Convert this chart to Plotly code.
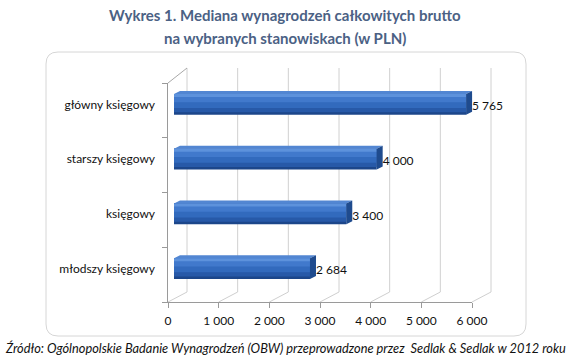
import plotly.graph_objects as go

# ---------------- data ----------------
categories = ["młodszy księgowy", "księgowy", "starszy księgowy", "główny księgowy"]
values = [2684, 3400, 4000, 5765]
x_tickvals = [0, 1000, 2000, 3000, 4000, 5000, 6000]
x_ticktext = ["0", "1 000", "2 000", "3 000", "4 000", "5 000", "6 000"]
title_lines = ["Wykres 1. Mediana wynagrodzeń całkowitych brutto",
               "na wybranych stanowiskach (w PLN)"]
source_text = "Źródło: Ogólnopolskie Badanie Wynagrodzeń (OBW) przeprowadzone przez  Sedlak & Sedlak w 2012 roku"

# ---------------- geometry helpers ----------------
W, H = 570, 359
FONT = "Lato"


def X(px):
    return px / W


def Y(py):
    return 1 - py / H


def fmt(v):
    return f"{v:,}".replace(",", " ")


XMAX = 6000
front_x = (168, 472)
front_y = (83, 302)
back_x = (187, 491)
back_y = (68, 292)
bar_x = (174, 478)
bar_y = (77, 296)

units_per_px_x = XMAX / (bar_x[1] - bar_x[0])
units_per_px_y = 4 / (bar_y[1] - bar_y[0])
cap_dx = 6 * units_per_px_x
cap_dy = 3 * units_per_px_y
face_h = 0.38

fig = go.Figure()

# empty trace so that the front axis frame is drawn
fig.add_trace(go.Scatter(x=[None], y=[None], xaxis="x", yaxis="y", showlegend=False, hoverinfo="skip"))

idx = list(range(len(categories)))

# front face gradient: nested bands, each from the top of the face down to a fraction
bands = [
    (1.00, "#1c468a"),
    (0.88, "#2759a8"),
    (0.68, "#326abd"),
    (0.40, "#4179cc"),
    (0.14, "#5d92dc"),
]
for frac, col in bands:
    w = frac * face_h
    centre_off = face_h / 2 - w / 2
    fig.add_trace(go.Bar(
        x=values, y=[i + centre_off for i in idx], width=w,
        orientation="h", marker=dict(color=col, line=dict(width=0)),
        xaxis="x3", yaxis="y3", hoverinfo="skip", showlegend=False))

# top face & end cap polygons computed from the values
for i, v in zip(idx, values):
    top = i + face_h / 2
    bot = i - face_h / 2
    fig.add_trace(go.Scatter(
        x=[0, v, v + cap_dx, cap_dx, 0],
        y=[top, top, top + cap_dy, top + cap_dy, top],
        fill="toself", mode="lines", line=dict(width=0),
        fillcolor="#5286d2", xaxis="x3", yaxis="y3",
        hoverinfo="skip", showlegend=False))
    fig.add_trace(go.Scatter(
        x=[v, v + cap_dx, v + cap_dx, v, v],
        y=[top, top + cap_dy, bot + cap_dy, bot, top],
        fill="toself", mode="lines", line=dict(width=0),
        fillcolor="#1f4b8e", xaxis="x3", yaxis="y3",
        hoverinfo="skip", showlegend=False))

# value labels
fig.add_trace(go.Scatter(
    x=[v + cap_dx for v in values], y=[i - 0.05 for i in idx],
    text=[fmt(v) for v in values], mode="text", textposition="middle right",
    textfont=dict(family=FONT, size=12, color="#111111"),
    xaxis="x3", yaxis="y3", hoverinfo="skip", showlegend=False, cliponaxis=False))

# ---------------- shapes: box, back wall grid, floor diagonals ----------------
shapes = []


def rrect(x0, y0, x1, y1, r):
    rx, ry = r / W, r / H
    a0, a1, b0, b1 = X(x0), X(x1), Y(y1), Y(y0)  # b0 bottom, b1 top
    return (f"M {a0 + rx},{b1} L {a1 - rx},{b1} Q {a1},{b1} {a1},{b1 - ry} "
            f"L {a1},{b0 + ry} Q {a1},{b0} {a1 - rx},{b0} L {a0 + rx},{b0} "
            f"Q {a0},{b0} {a0},{b0 + ry} L {a0},{b1 - ry} Q {a0},{b1} {a0 + rx},{b1} Z")


shapes.append(dict(type="path", path=rrect(46, 52, 526, 336, 12), xref="paper", yref="paper",
                   line=dict(color="#d6d6d6", width=1), fillcolor="rgba(0,0,0,0)", layer="below"))

scale_front = (front_x[1] - front_x[0]) / XMAX
scale_back = (back_x[1] - back_x[0]) / XMAX
for tv in x_tickvals:
    bx = back_x[0] + tv * scale_back
    # back wall gridline
    shapes.append(dict(type="line", xref="paper", yref="paper",
                       x0=X(bx), y0=Y(back_y[1]), x1=X(bx), y1=Y(back_y[0]),
                       line=dict(color="#d0d0d0", width=1), layer="below"))
    # floor diagonal
    shapes.append(dict(type="line", xref="paper", yref="paper",
                       x0=X(front_x[0] + tv * scale_front), y0=Y(front_y[1]),
                       x1=X(bx), y1=Y(back_y[1]),
                       line=dict(color="#cfcfcf", width=1), layer="below"))
# top-left wall edge
shapes.append(dict(type="line", xref="paper", yref="paper",
                   x0=X(front_x[0]), y0=Y(front_y[0]), x1=X(back_x[0]), y1=Y(back_y[0]),
                   line=dict(color="#a8a8a8", width=1), layer="below"))

# ---------------- annotations ----------------
annotations = [
    dict(text=f"<b>{title_lines[0]}</b>", x=0.5, y=Y(15), xref="paper", yref="paper",
         showarrow=False, font=dict(family=FONT, size=15, color="#4b6184"), xanchor="center", yanchor="middle"),
    dict(text=f"<b>{title_lines[1]}</b>", x=0.5, y=Y(38), xref="paper", yref="paper",
         showarrow=False, font=dict(family=FONT, size=15, color="#4b6184"), xanchor="center", yanchor="middle"),
    dict(text=f"<i>{source_text}</i>", x=0.5, y=Y(348), xref="paper", yref="paper",
         showarrow=False, font=dict(family=FONT, size=12.8, color="#111111"), xanchor="center", yanchor="middle"),
]

fig.update_layout(
    width=W, height=H, margin=dict(l=0, r=0, t=0, b=0), autosize=False,
    paper_bgcolor="white", plot_bgcolor="rgba(0,0,0,0)",
    barmode="overlay", showlegend=False,
    font=dict(family=FONT, size=12, color="#111111"),
    shapes=shapes, annotations=annotations,
    xaxis=dict(domain=[X(front_x[0]), X(front_x[1])], range=[0, XMAX], anchor="y",
               tickvals=x_tickvals, ticktext=x_ticktext, showline=True, linecolor="#9a9a9a",
               ticks="outside", ticklen=5, tickcolor="#9a9a9a", showgrid=False, zeroline=False,
               tickfont=dict(family=FONT, size=12, color="#111111"), ticklabelstandoff=3,
               fixedrange=True, automargin=False),
    yaxis=dict(domain=[Y(front_y[1]), Y(front_y[0])], range=[-0.5, 3.5], anchor="x",
               tickvals=[-0.5, 0.5, 1.5, 2.5, 3.5], showticklabels=False, ticks="outside",
               ticklen=5, tickcolor="#9a9a9a", showline=True, linecolor="#9a9a9a",
               showgrid=False, zeroline=False, fixedrange=True, automargin=False),
    xaxis3=dict(domain=[X(bar_x[0]), X(bar_x[1])], range=[0, XMAX], anchor="y3",
                visible=False, fixedrange=True, automargin=False),
    yaxis3=dict(domain=[Y(bar_y[1]), Y(bar_y[0])], range=[-0.5, 3.5], anchor="x3",
                tickvals=idx, ticktext=categories, ticks="", showgrid=False, zeroline=False,
                showline=False, tickfont=dict(family=FONT, size=12, color="#111111"),
                ticklabelstandoff=18, fixedrange=True, automargin=False),
)

fig.write_html("out.html")
